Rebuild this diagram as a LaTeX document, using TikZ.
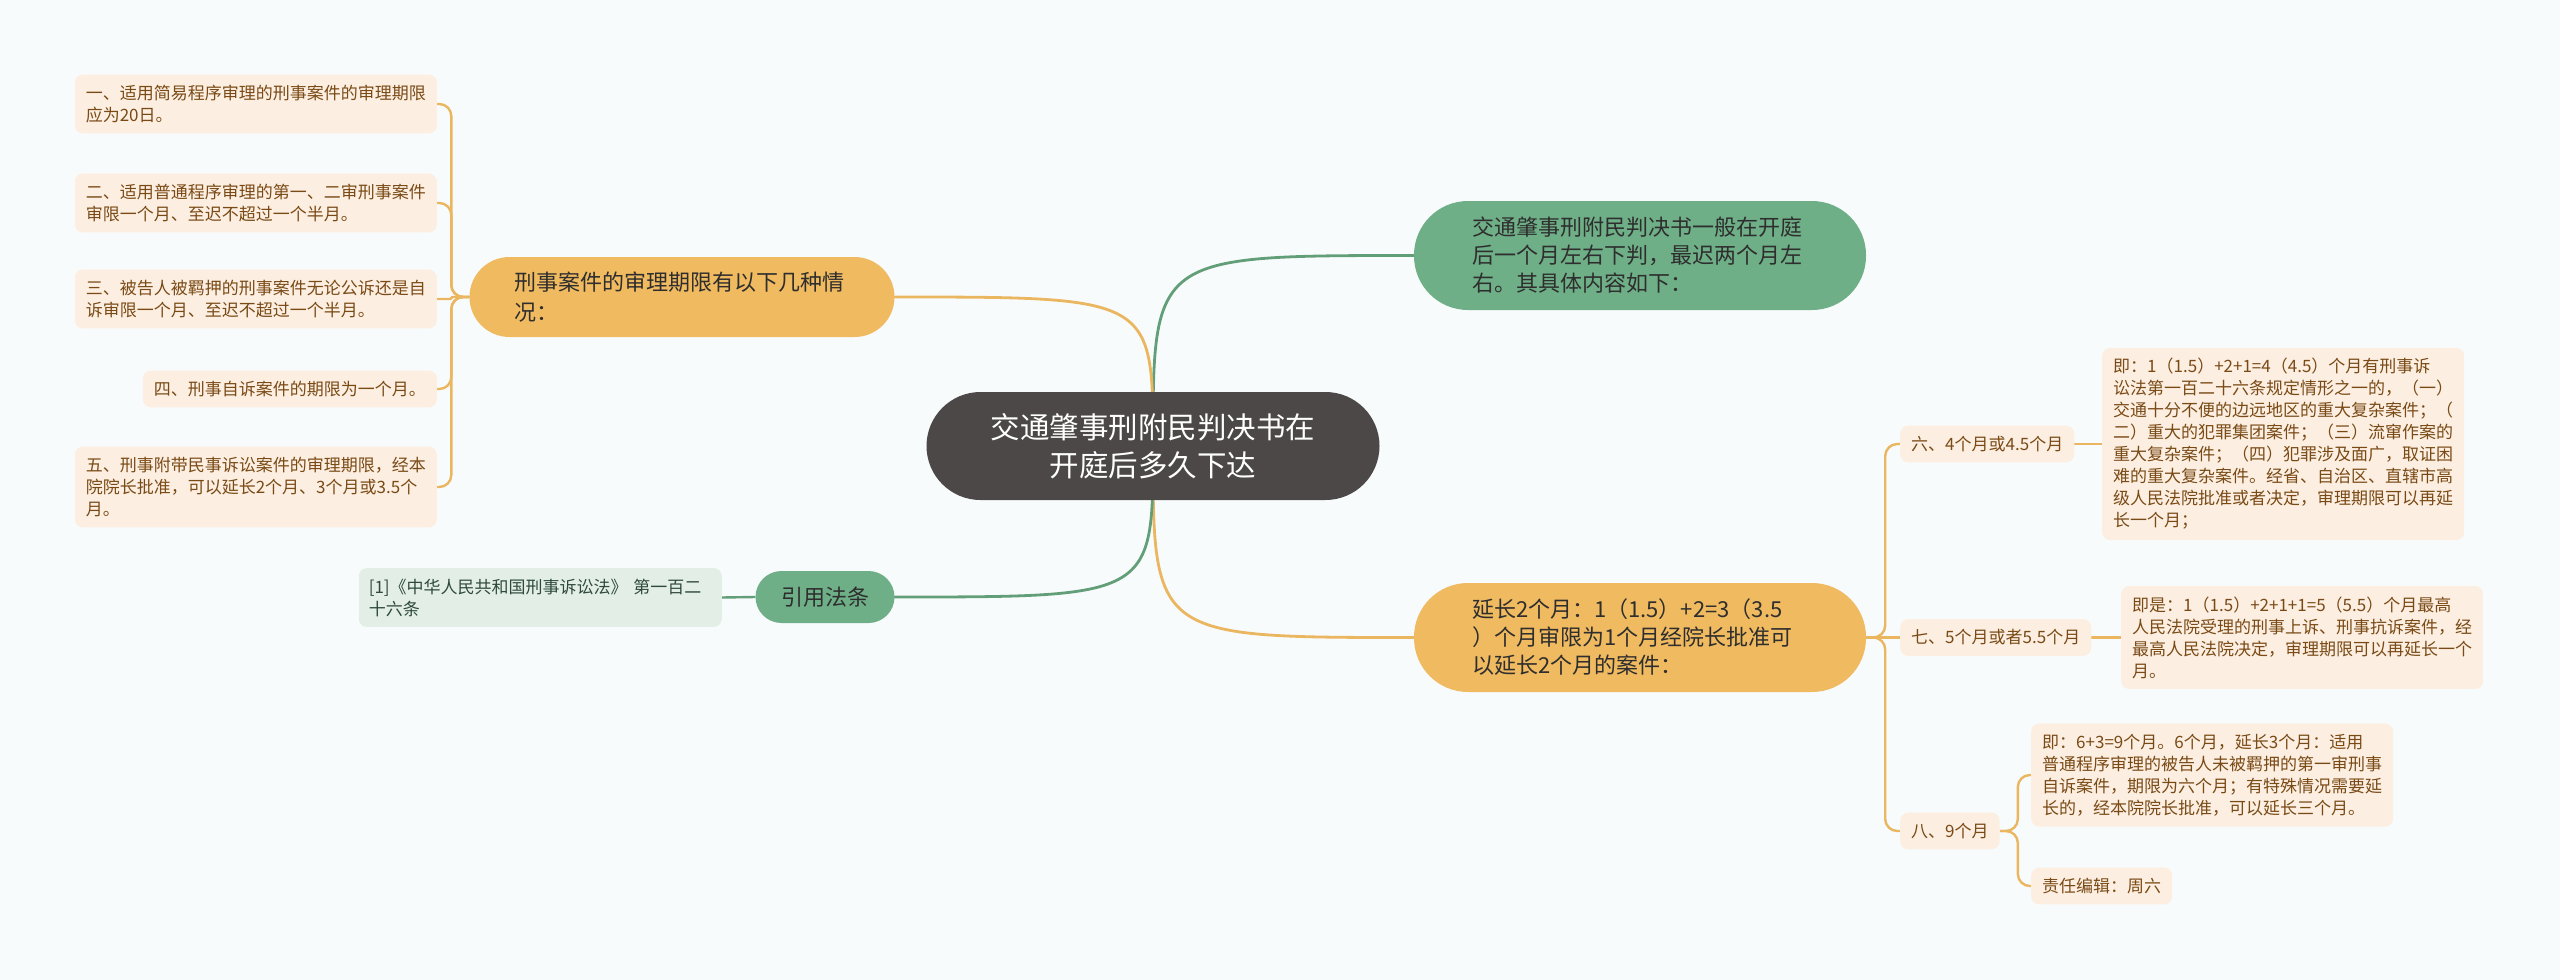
\documentclass[tikz,border=0pt]{standalone}
\usepackage{fontspec}
\setmainfont{Noto Sans CJK SC}
\usetikzlibrary{backgrounds}

\definecolor{paper}{HTML}{F8FBFC}
\definecolor{rootfill}{HTML}{4C4847}
\definecolor{greenfill}{HTML}{6FAF87}
\definecolor{greenline}{HTML}{629F79}
\definecolor{orangefill}{HTML}{F0BA60}
\definecolor{orangeline}{HTML}{EBB660}
\definecolor{leaffill}{HTML}{FCEFE1}
\definecolor{leaftext}{HTML}{7A4A16}
\definecolor{citefill}{HTML}{E2EEE6}
\definecolor{citetext}{HTML}{2F4A3A}

\begin{document}
\begin{tikzpicture}[
  x=1pt, y=-1pt,
  root/.style={
      fill=rootfill,
      text=white,
      rounded corners=54pt,
      minimum width=453pt,
      minimum height=108pt,
      align=center,
      font=\fontsize{29.5}{38}\selectfont
    },
  topic/.style={
      rounded corners=54pt,
      minimum width=452pt,
      minimum height=109pt,
      text width=336pt,
      align=left,
      text=black!82,
      font=\fontsize{22}{28}\selectfont
    },
  subtopic/.style={
      fill=orangefill,
      rounded corners=40pt,
      minimum width=425pt,
      minimum height=80pt,
      text width=336pt,
      align=left,
      text=black!82,
      font=\fontsize{22}{30}\selectfont
    },
  leaf/.style={
      fill=leaffill,
      text=leaftext,
      rounded corners=8pt,
      inner xsep=11pt,
      inner ysep=10.5pt,
      align=left,
      font=\fontsize{17}{22}\selectfont
    },
  cite/.style={
      fill=citefill,
      text=citetext,
      rounded corners=8pt,
      inner xsep=10pt,
      inner ysep=10.5pt,
      text width=343pt,
      align=left,
      font=\fontsize{17}{22}\selectfont
    },
  branch/.style={
      line width=2.8pt,
      line cap=round
    },
  twig/.style={
      draw=orangeline,
      line width=2.4pt,
      line join=round,
      rounded corners=12pt
    }]

  \useasboundingbox (0,0) rectangle (2560,980);

  \node [root] (root) at (1153,446) {交通肇事刑附民判决书在\\开庭后多久下达};

  % right side
  \node [topic, fill=greenfill] (intro) at (1640,255.5)
    {交通肇事刑附民判决书一般在开庭\\后一个月左右下判，最迟两个月左\\右。其具体内容如下：};
  \node [topic, fill=orangefill] (extend) at (1640,637.5)
    {延长2个月：1（1.5）+2=3（3.5\\）个月审限为1个月经院长批准可\\以延长2个月的案件：};

  \node [leaf, anchor=west] (six) at (1900,444) {六、4个月或4.5个月};
  \node [leaf, anchor=west] (sixd) at (2102,444)
    {即：1（1.5）+2+1=4（4.5）个月有刑事诉\\讼法第一百二十六条规定情形之一的，（一）\\交通十分不便的边远地区的重大复杂案件；（\\二）重大的犯罪集团案件；（三）流窜作案的\\重大复杂案件；（四）犯罪涉及面广，取证困\\难的重大复杂案件。经省、自治区、直辖市高\\级人民法院批准或者决定，审理期限可以再延\\长一个月；};

  \node [leaf, anchor=west] (seven) at (1900,637.5) {七、5个月或者5.5个月};
  \node [leaf, anchor=west] (sevend) at (2121,637.5)
    {即是：1（1.5）+2+1+1=5（5.5）个月最高\\人民法院受理的刑事上诉、刑事抗诉案件，经\\最高人民法院决定，审理期限可以再延长一个\\月。};

  \node [leaf, anchor=west] (eight) at (1900,831) {八、9个月};
  \node [leaf, anchor=west] (eightd) at (2031,775)
    {即：6+3=9个月。6个月，延长3个月：适用\\普通程序审理的被告人未被羁押的第一审刑事\\自诉案件，期限为六个月；有特殊情况需要延\\长的，经本院院长批准，可以延长三个月。};
  \node [leaf, anchor=west] (editor) at (2031,886) {责任编辑：周六};

  % left side
  \node [subtopic] (limits) at (682,297)
    {刑事案件的审理期限有以下几种情\\况：};
  \node [leaf, anchor=east] (l1) at (437,104)
    {一、适用简易程序审理的刑事案件的审理期限\\应为20日。};
  \node [leaf, anchor=east] (l2) at (437,203)
    {二、适用普通程序审理的第一、二审刑事案件\\审限一个月、至迟不超过一个半月。};
  \node [leaf, anchor=east] (l3) at (437,299)
    {三、被告人被羁押的刑事案件无论公诉还是自\\诉审限一个月、至迟不超过一个半月。};
  \node [leaf, anchor=east] (l4) at (437,389)
    {四、刑事自诉案件的期限为一个月。};
  \node [leaf, anchor=east] (l5) at (437,487)
    {五、刑事附带民事诉讼案件的审理期限，经本\\院院长批准，可以延长2个月、3个月或3.5个\\月。};

  \node [topic, fill=greenfill, rounded corners=26pt, minimum width=139pt,
    minimum height=52pt, text width=, align=center] (ref) at (825,597) {引用法条};
  \node [cite, anchor=east] (law) at (722,597.5)
    {[1]《中华人民共和国刑事诉讼法》 第一百二\\十六条};

  \begin{pgfonlayer}{background}
    \fill [paper] (0,0) rectangle (2560,980);
    \draw [branch, draw=greenline] (root.center) .. controls (root.center |- intro.west) .. (intro.west);
    \draw [branch, draw=orangeline] (root.center) .. controls (root.center |- extend.west) .. (extend.west);
    \draw [branch, draw=orangeline] (root.center) .. controls (root.center |- limits.east) .. (limits.east);
    \draw [branch, draw=greenline] (root.center) .. controls (root.center |- ref.east) .. (ref.east);

    \draw [twig] (extend.east) -- ++(19,0) |- (six.west);
    \draw [twig] (extend.east) -- (seven.west);
    \draw [twig] (extend.east) -- ++(19,0) |- (eight.west);
    \draw [twig] (six.east) -- (sixd.west);
    \draw [twig] (seven.east) -- (sevend.west);
    \draw [twig] (eight.east) -- ++(18,0) |- (eightd.west);
    \draw [twig] (eight.east) -- ++(18,0) |- (editor.west);

    \draw [twig] (limits.west) -- ++(-18,0) |- (l1.east);
    \draw [twig] (limits.west) -- ++(-18,0) |- (l2.east);
    \draw [twig, rounded corners=1pt] (limits.west) -- ++(-18,0) |- (l3.east);
    \draw [twig] (limits.west) -- ++(-18,0) |- (l4.east);
    \draw [twig] (limits.west) -- ++(-18,0) |- (l5.east);

    \draw [twig, draw=greenline] (ref.west) -- (law.east);
  \end{pgfonlayer}
\end{tikzpicture}
\end{document}
